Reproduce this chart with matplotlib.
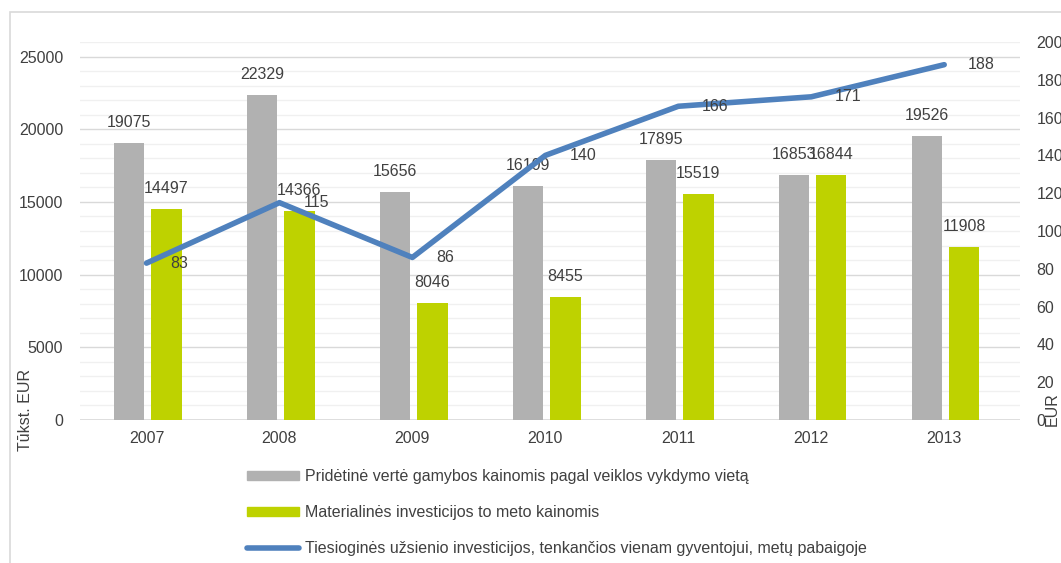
import matplotlib.pyplot as plt
import matplotlib.patches as mpatches
import matplotlib.lines as mlines
import numpy as np

plt.rcParams['font.family'] = ['Liberation Sans', 'DejaVu Sans']

years = ['2007', '2008', '2009', '2010', '2011', '2012', '2013']
value_added = [19075, 22329, 15656, 16109, 17895, 16853, 19526]
investment = [14497, 14366, 8046, 8455, 15519, 16844, 11908]
fdi_per_capita = [83, 115, 86, 140, 166, 171, 188]

labels = [
    'Pridėtinė vertė gamybos kainomis pagal veiklos vykdymo vietą',
    'Materialinės investicijos to meto kainomis',
    'Tiesioginės užsienio investicijos, tenkančios vienam gyventojui, metų pabaigoje',
]

gray = '#b1b1b1'
green = '#bed200'
blue = '#4f81bd'
txt = '#404040'
fs = 11.5

fig = plt.figure(figsize=(10.61, 5.63), dpi=100)
fig.patches.append(mpatches.Rectangle((10 / 1061, -0.1), 1.2, 1 - 12 / 563 + 0.1,
                                      transform=fig.transFigure, fill=False,
                                      edgecolor='#d9d9d9', linewidth=1.2))

ax = fig.add_axes([80 / 1061, 1 - 420 / 563, 940 / 1061, 378 / 563])
x = np.arange(len(years))
w = 0.23
ax.bar(x - 0.13, value_added, w, color=gray, zorder=3)
ax.bar(x + 0.15, investment, w, color=green, zorder=3)

for i in range(len(years)):
    ax.text(x[i] - 0.13, value_added[i] + 900, str(value_added[i]), ha='center', va='bottom',
            fontsize=fs, color=txt, zorder=5)
    ax.text(x[i] + 0.15, investment[i] + 900, str(investment[i]), ha='center', va='bottom',
            fontsize=fs, color=txt, zorder=5)

ax.set_ylim(0, 26000)
ax.set_xlim(-0.5, 6.57)
ax.set_yticks(range(0, 26000, 5000))
ax.set_yticks(range(0, 26001, 1000), minor=True)
ax.grid(axis='y', which='minor', color='#f0f0f0', linewidth=1, zorder=0)
ax.grid(axis='y', which='major', color='#d9d9d9', linewidth=1, zorder=1)
ax.set_xticks(x)
ax.set_xticklabels(years)
for s in ax.spines.values():
    s.set_visible(False)
ax.tick_params(axis='both', which='both', length=0, labelsize=fs, labelcolor=txt)
ax.tick_params(axis='y', pad=12)
ax.tick_params(axis='x', pad=8)
ax.axhline(0, color='#d9d9d9', linewidth=1.2, zorder=2)
ax.set_ylabel('Tūkst. EUR', fontsize=fs, color=txt, va='center')
ax.yaxis.set_label_coords(-0.058, 0.026)

ax2 = ax.twinx()
ax2.set_ylim(0, 200)
ax2.set_yticks(range(0, 201, 20))
ax2.plot(x, fdi_per_capita, color=blue, linewidth=4, solid_capstyle='round', zorder=4)
for i in range(len(years)):
    ax2.text(x[i] + 0.18, fdi_per_capita[i], str(fdi_per_capita[i]), ha='left', va='center',
             fontsize=fs, color=txt, zorder=5)
for s in ax2.spines.values():
    s.set_visible(False)
ax2.tick_params(axis='y', length=0, labelsize=fs, labelcolor=txt, pad=12)
ax2.set_ylabel('EUR', fontsize=fs, color=txt, va='center')
ax2.yaxis.set_label_coords(1.034, 0.03)

handles = [
    mpatches.Patch(color=gray),
    mpatches.Patch(color=green),
    mlines.Line2D([], [], color=blue, linewidth=4, solid_capstyle='round'),
]
fig.legend(handles, labels, loc='upper left', bbox_to_anchor=(233 / 1061, 1 - 455 / 563),
           frameon=False, fontsize=fs, labelcolor=txt, handlelength=3.25, handleheight=0.45,
           labelspacing=1.3, handletextpad=0.35)

fig.savefig('out.png', dpi=100)
